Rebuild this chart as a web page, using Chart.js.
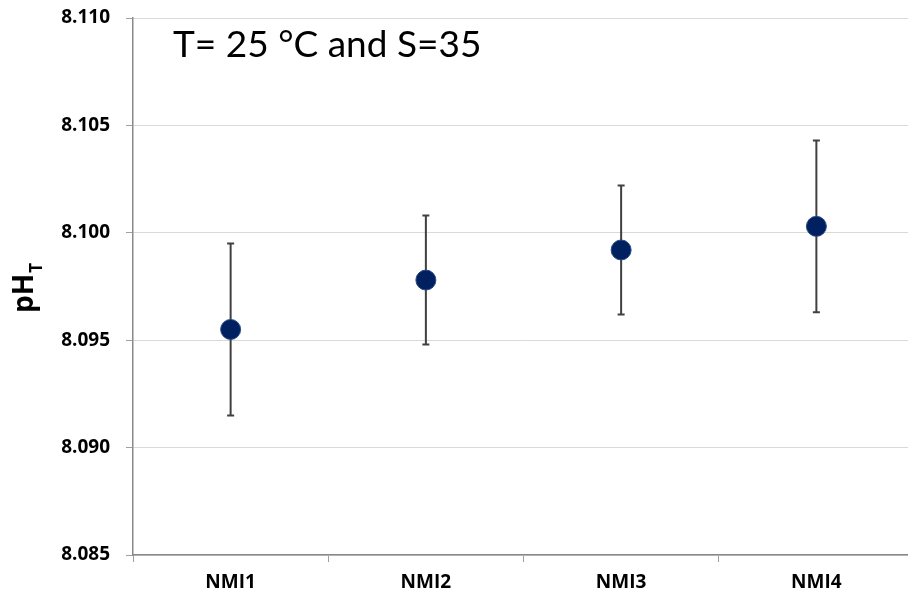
<!DOCTYPE html>
<html>
<head>
<meta charset="utf-8">
<script src="https://cdn.jsdelivr.net/npm/chart.js@4"></script>
<style>
  html, body { margin: 0; padding: 0; background: #fff; overflow: hidden; }
  #wrap { width: 908px; height: 594px; overflow: hidden; }
</style>
</head>
<body>
<div id="wrap"><canvas id="chart" width="914" height="594"></canvas></div>
<script>
const labels = ['NMI1', 'NMI2', 'NMI3', 'NMI4'];
const phValues = [8.0955, 8.0978, 8.0992, 8.1003];
const uncertainty = [0.0040, 0.0030, 0.0030, 0.0040];
const yTicks = [8.085, 8.090, 8.095, 8.100, 8.105, 8.110];

// error bars drawn under the points
const errorBars = {
  id: 'errorBars',
  beforeDatasetsDraw(chart) {
    const ctx = chart.ctx;
    const x = chart.scales.x;
    const y = chart.scales.y;
    ctx.save();
    ctx.strokeStyle = '#404040';
    ctx.lineWidth = 2;
    for (let i = 0; i < phValues.length; i++) {
      const px = x.getPixelForValue(i);
      const top = y.getPixelForValue(phValues[i] + uncertainty[i]);
      const bot = y.getPixelForValue(phValues[i] - uncertainty[i]);
      ctx.beginPath();
      ctx.moveTo(px, top);
      ctx.lineTo(px, bot);
      ctx.moveTo(px - 3.5, top);
      ctx.lineTo(px + 3.5, top);
      ctx.moveTo(px - 3.5, bot);
      ctx.lineTo(px + 3.5, bot);
      ctx.stroke();
    }
    ctx.restore();
  }
};

const extraText = {
  id: 'extraText',
  afterDraw(chart) {
    const ctx = chart.ctx;
    ctx.save();
    ctx.fillStyle = '#000';
    ctx.textBaseline = 'alphabetic';
    ctx.textAlign = 'left';
    ctx.font = '37px Lato';
    ctx.fillText('T= 25 °C and S=35', 173, 57);

    // rotated axis title with subscript
    ctx.translate(33, 313);
    ctx.rotate(-Math.PI / 2);
    ctx.font = 'bold 28px "Open Sans"';
    ctx.fillText('pH', 0, 0);
    const w = ctx.measureText('pH').width;
    ctx.font = 'bold 17px "Open Sans"';
    ctx.fillText('T', w + 1, 9);
    ctx.restore();
  }
};

const tickFont = { family: '"Open Sans"', size: 19, weight: 'bold' };

new Chart(document.getElementById('chart'), {
  type: 'line',
  data: {
    labels: labels,
    datasets: [{
      data: phValues,
      showLine: false,
      pointRadius: 10,
      pointHoverRadius: 10,
      pointBackgroundColor: '#002060',
      pointBorderColor: '#2a4a85',
      pointBorderWidth: 1
    }]
  },
  options: {
    responsive: false,
    animation: false,
    layout: { autoPadding: false, padding: { top: 18, right: 0, bottom: 0, left: 0 } },
    plugins: {
      legend: { display: false },
      tooltip: { enabled: false }
    },
    scales: {
      x: {
        offset: true,
        grid: {
          offset: true,
          drawOnChartArea: false,
          tickLength: 7,
          tickColor: '#a0a0a0'
        },
        border: { color: '#898989', width: 1.5 },
        ticks: {
          color: '#000',
          padding: 9,
          font: tickFont
        },
        afterFit(scale) {
          scale.height = 39;
          scale.paddingLeft = 0;
          scale.paddingRight = 0;
        }
      },
      y: {
        min: 8.085,
        max: 8.110,
        afterBuildTicks(scale) {
          scale.ticks = yTicks.map(v => ({ value: v }));
        },
        grid: {
          color: '#d9d9d9',
          lineWidth: 1,
          tickLength: 7,
          tickColor: '#a0a0a0'
        },
        border: { color: '#898989', width: 1.5 },
        ticks: {
          color: '#000',
          padding: 16,
          font: tickFont,
          callback: v => v.toFixed(3)
        },
        afterFit(scale) {
          scale.width = 133;
          scale.paddingTop = 0;
          scale.paddingBottom = 0;
        }
      }
    }
  },
  plugins: [errorBars, extraText]
});
</script>
</body>
</html>
